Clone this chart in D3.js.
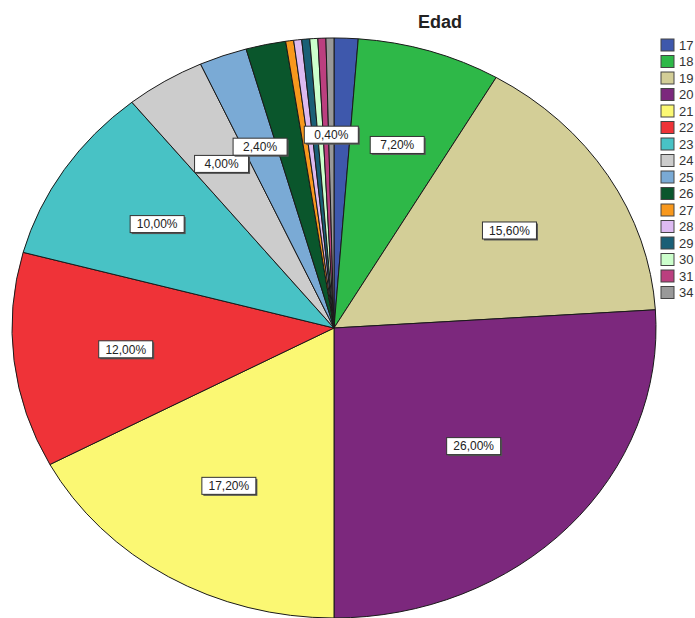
<!DOCTYPE html>
<html>
<head>
<meta charset="utf-8">
<script src="https://cdn.jsdelivr.net/npm/d3@7"></script>
<style>
  body { margin: 0; background: #fff; }
  svg { display: block; }
</style>
</head>
<body>
<svg id="mainsvg" width="695" height="618"></svg>
<script>
// edades y porcentajes
const edades = ['17','18','19','20','21','22','23','24','25','26','27','28','29','30','31','34']
const porcentajes = [1.2, 7.2, 15.6, 26.0, 17.2, 12.0, 10.0, 4.0, 2.4, 2.0, 0.4, 0.4, 0.4, 0.4, 0.4, 0.4]
const colores = ['#3e58ac','#2eb848','#d3ce97','#7c287d','#fbf873','#ef3338','#48c2c5','#cccccc',
                 '#7aaad5','#0a562c','#f8981d','#ddbaf1','#1a5f76','#ccffcc','#bb3f7f','#999999']
// etiquetas que se ven en el grafico (las demas quedan ocultas)
const conEtiqueta = ['18','19','20','21','22','23','24','25','34']
const titulo = 'Edad'

const svg = d3.select('#mainsvg')
const cx = 334, cy = 328
const rx = 322, ry = 290
const ratio = ry / rx

const datos = edades.map((e, i) => ({edad: e, valor: porcentajes[i], color: colores[i]}))

const pie = d3.pie().sort(null).value(d => d.valor)
const arcs = pie(datos)
const arc = d3.arc().innerRadius(0).outerRadius(rx)

const color = d3.scaleOrdinal().domain(edades).range(colores)

// pastel (circulo aplastado en vertical)
const g = svg.append('g')
    .attr('transform', `translate(${cx},${cy}) scale(1,${ratio})`)
g.selectAll('path')
    .data(arcs)
    .enter()
    .append('path')
    .attr('d', arc)
    .attr('fill', d => color(d.data.edad))
    .attr('stroke', '#1a1a1a')
    .attr('stroke-width', 1)
    .attr('vector-effect', 'non-scaling-stroke')

// etiquetas en el centroide de cada sector
const fmt = v => d3.format('.2f')(v).replace('.', ',') + '%'
const gl = svg.append('g').attr('transform', `translate(${cx},${cy})`)
arcs.filter(d => conEtiqueta.includes(d.data.edad)).forEach(d => {
    let half = (d.endAngle - d.startAngle) / 2
    let mid = d.startAngle + half
    let k = 2 * Math.sin(half) / (3 * half)
    let x = Math.sin(mid) * rx * k
    let y = -Math.cos(mid) * ry * k
    let lg = gl.append('g').attr('transform', `translate(${x},${y})`)
    let w = 54, h = 17
    lg.append('rect')
        .attr('x', -w / 2 + 1.5).attr('y', -h / 2 + 1.5)
        .attr('width', w).attr('height', h)
        .attr('fill', '#555')
    lg.append('rect')
        .attr('x', -w / 2).attr('y', -h / 2)
        .attr('width', w).attr('height', h)
        .attr('fill', 'white')
        .attr('stroke', '#333')
        .attr('stroke-width', 1)
    lg.append('text')
        .attr('text-anchor', 'middle')
        .attr('dy', '0.36em')
        .attr('font-family', 'Arial, "Liberation Sans", sans-serif')
        .attr('font-size', '12px')
        .attr('fill', '#222')
        .text(fmt(d.data.valor))
})

// titulo
svg.append('text')
    .attr('x', 440).attr('y', 28)
    .attr('text-anchor', 'middle')
    .attr('font-family', 'Arial, "Liberation Sans", sans-serif')
    .attr('font-weight', 'bold')
    .attr('font-size', '18px')
    .attr('fill', '#222')
    .text(titulo)

// leyenda
const ly = d3.scaleBand().domain(edades).range([39, 39 + 16.5 * edades.length])
const leg = svg.append('g').attr('transform', 'translate(661,0)')
leg.selectAll('rect')
    .data(edades)
    .enter()
    .append('rect')
    .attr('x', 0).attr('y', d => ly(d))
    .attr('width', 13).attr('height', 12)
    .attr('fill', d => color(d))
    .attr('stroke', '#444')
    .attr('stroke-width', 1)
leg.selectAll('text')
    .data(edades)
    .enter()
    .append('text')
    .attr('x', 18).attr('y', d => ly(d) + 6)
    .attr('dy', '0.36em')
    .attr('font-family', 'Arial, "Liberation Sans", sans-serif')
    .attr('font-size', '13px')
    .attr('fill', '#333')
    .text(d => d)
</script>
</body>
</html>
